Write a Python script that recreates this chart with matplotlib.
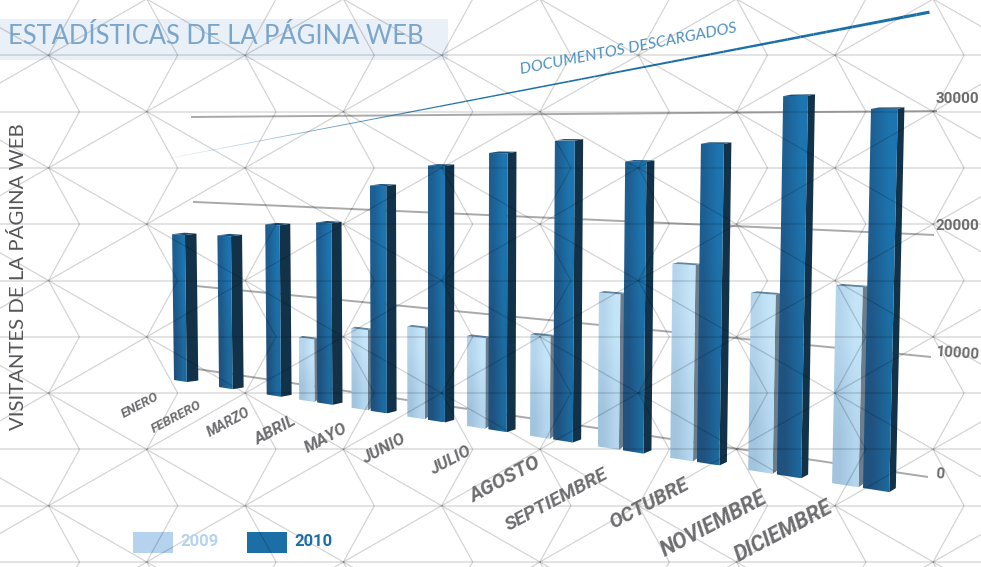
import numpy as np
import matplotlib
matplotlib.use('Agg')
import matplotlib.pyplot as plt
from matplotlib.collections import LineCollection
from matplotlib.patches import Polygon

months = ['ENERO', 'FEBRERO', 'MARZO', 'ABRIL', 'MAYO', 'JUNIO', 'JULIO', 'AGOSTO',
          'SEPTIEMBRE', 'OCTUBRE', 'NOVIEMBRE', 'DICIEMBRE']
visits_2009 = [None, None, None, 6600, 8200, 9000, 8700, 9500, 13900, 16900, 14900, 16000]
visits_2010 = [16600, 16800, 18300, 18800, 22800, 24900, 26200, 27400, 25600, 27200, 31100, 30000]
ticks = [0, 10000, 20000, 30000]
doc_months = [-0.5, 10.9]
doc_values = [25100, 37900]

label_x = [140, 177, 229, 276, 326, 384, 450, 505, 557, 649, 714, 784]
label_y = [405, 417, 422, 430, 438, 449, 461, 480, 500, 504, 524, 531]
label_size = [9.5, 9.5, 10, 12, 12, 12, 12, 14.5, 14, 14.5, 15.5, 15.5]

BOLD = 'Roboto'
LIGHT = 'Lato'
GREY = '#6d6d70'


def homography(src, dst):
    """4 point perspective transform, used to fake the 3d look"""
    a, b = [], []
    for (u, v), (x, y) in zip(src, dst):
        a.append([u, v, 1, 0, 0, 0, -u * x, -v * x])
        a.append([0, 0, 0, u, v, 1, -u * y, -v * y])
        b += [x, y]
    return np.append(np.linalg.solve(np.array(a, float), np.array(b, float)), 1).reshape(3, 3)


def project(h, u, v):
    p = h @ np.array([u, v, 1.0])
    return p[0] / p[2], p[1] / p[2]


corners = [(0, 0), (11, 0), (0, 30000), (11, 30000)]
bar_h = homography(corners, [(174, 380), (863, 488), (170.5, 115), (871, 109)])
wall_h = homography(corners, [(197, 369), (928, 477), (191, 117), (937, 111)])

fig = plt.figure(figsize=(9.81, 5.67), dpi=100, facecolor='white')
ax = fig.add_axes([0, 0, 1, 1])
ax.set_axis_off()


def shaded(quad, cols, zorder):
    """quad filled with a bilinear gradient, cols = [[top l, top r], [bot l, bot r]]"""
    quad = np.array(quad)
    rgb = np.array([[matplotlib.colors.to_rgb(c) for c in row] for row in cols])
    im = ax.imshow(rgb, extent=[quad[:, 0].min(), quad[:, 0].max(), quad[:, 1].max(), quad[:, 1].min()],
                   interpolation='bilinear', aspect='auto', zorder=zorder)
    im.set_clip_path(Polygon(quad, transform=ax.transData))


def draw_bar(u, value, width, depth, front, side, cap, zorder):
    bl = project(bar_h, u, 0)
    br = project(bar_h, u + width, 0)
    tl = project(bar_h, u, value)
    tr = project(bar_h, u + width, value)
    t = u / 11
    rise = 1.5 + 2.5 * t
    back_t = (tr[0] + depth, tr[1] - 1.5)
    back_b = (br[0] + depth, br[1] - rise)
    ax.add_patch(Polygon([br, tr, back_t, back_b], closed=True, fc=side, ec='none', zorder=zorder))
    shaded([tl, tr, br, bl], front, zorder + 0.1)
    ax.add_patch(Polygon([tl, tr, back_t, (tl[0] + depth + 1, tl[1] - 1.5)], closed=True,
                         fc=cap, ec='none', zorder=zorder + 0.2))


# title band
ax.fill_between([0, 448], 19, 60, color='#eaf0f8', lw=0, zorder=1)

# wall grid lines
for v in ticks:
    a = project(wall_h, 0, v)
    b = project(wall_h, 11, v)
    ax.plot([a[0], b[0]], [a[1], b[1]], color='#a9a9a9', lw=1.4, zorder=2, solid_capstyle='butt')

# bars, back to front
for i in range(12):
    if visits_2009[i] is not None:
        draw_bar(i - 0.35, visits_2009[i], 0.30, 2 + 0.3 * i, [['#b4d5ec', '#c4e4f8'], ['#a2c4de', '#b4d6ee']],
                 '#6b7e8d', '#5f87a3', 3 + i)
    draw_bar(i, visits_2010[i], 0.29, 11.5 - 0.45 * i, [['#1e5f92', '#1c75b0'], ['#20527f', '#1c6a9f']],
             '#12324a', '#1a4f78', 3.5 + i)

# documents line, thin and fading at the left
xa, ya = project(wall_h, doc_months[0], doc_values[0])
xb, yb = project(wall_h, doc_months[1], doc_values[1])
fr = np.linspace(0, 1, 60)
dx = xa + (xb - xa) * fr
dy = ya + (yb - ya) * fr
segs = [[(dx[k], dy[k]), (dx[k + 1], dy[k + 1])] for k in range(59)]
seg_cols = [(0.106, 0.44, 0.66, min(1, 0.1 + f * 2.5)) for f in fr[:-1]]
ax.add_collection(LineCollection(segs, colors=seg_cols, linewidths=0.5 + 1.8 * fr[:-1] ** 1.5, zorder=30))

# background net, drawn over the bars like a multiply layer
dx_net, dy_net = 98.3, 56.3
h_lines = []
d_lines = []
for r in range(-1, 12):
    y = -1 + r * dy_net
    h_lines.append([(0, y), (981, y)])
    x0 = 146.7 if r % 2 == 0 else 48.5
    for k in range(-1, 6):
        x = x0 + 196.6 * k
        for sign in (-1, 1):
            d_lines.append([(x, y), (x + dx_net, y + sign * dy_net)])
            d_lines.append([(x, y), (x + 31, y + sign * dy_net)])
ax.add_collection(LineCollection(d_lines, colors=[(0, 0, 0, 0.17)], linewidths=0.9, zorder=40))
ax.add_collection(LineCollection(h_lines, colors=[(0, 0, 0, 0.12)], linewidths=1.3, zorder=40))

# texts
ax.text(8, 37, 'ESTADÍSTICAS DE LA PÁGINA WEB', color='#7ba6cc', fontsize=18.4, family=LIGHT,
        va='center', ha='left', zorder=50)
ax.text(18, 277, 'VISITANTES DE LA PÁGINA WEB', color='#55565a', fontsize=14.7, family=LIGHT,
        rotation=90, va='center', ha='center', zorder=50)
ax.text(628, 49, 'DOCUMENTOS DESCARGADOS', color='#4d90bf', fontsize=11.5, family=LIGHT,
        style='italic', rotation=11, va='center', ha='center', rotation_mode='anchor', zorder=50)

for name, x, y, size in zip(months, label_x, label_y, label_size):
    ax.text(x, y, name, color=GREY, fontsize=size, family=BOLD, weight='bold', style='italic',
            rotation=28, va='center', ha='center', rotation_mode='anchor', zorder=50)

tick_y = [474, 352, 226, 99]
tick_rot = [-4, -4, 0, 0]
for v, y, rot in zip(ticks, tick_y, tick_rot):
    ax.text(936, y, str(v), color=GREY, fontsize=11, family=BOLD, weight='bold', rotation=rot,
            va='center', ha='left', rotation_mode='anchor', zorder=50)

# legend
ax.fill_between([133, 173], 532, 553, color='#b5d3ee', lw=0, zorder=1)
ax.fill_between([247, 287], 532, 553, color='#1b6fa6', lw=0, zorder=1)
ax.text(180, 542, '2009', color='#b5d3ee', fontsize=12, family=BOLD, weight='bold', va='center', zorder=50)
ax.text(294, 541, '2010', color='#1b6fa6', fontsize=12, family=BOLD, weight='bold', va='center', zorder=50)

ax.set_xlim(0, 981)
ax.set_ylim(567, 0)
fig.savefig('out.png', dpi=100, facecolor='white')
